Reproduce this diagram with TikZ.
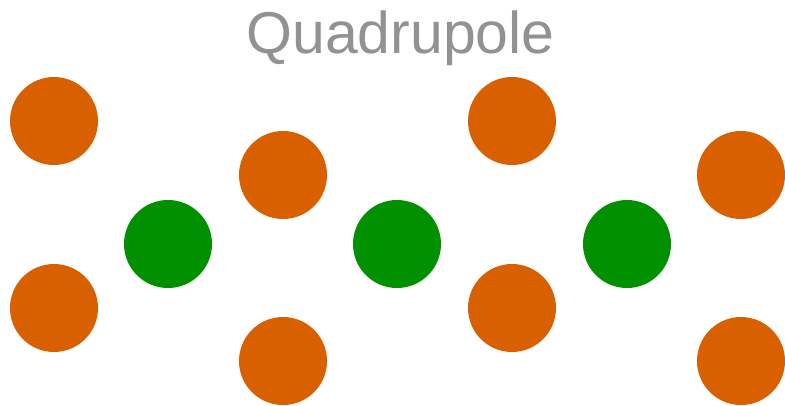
\documentclass[tikz,border=0pt]{standalone}
\usepackage{fontspec}
\setmainfont{Liberation Sans}
\definecolor{orangeq}{HTML}{D86000}
\definecolor{greenq}{HTML}{009000}
\definecolor{titlegray}{HTML}{929292}
\begin{document}
\begin{tikzpicture}[x=1pt,y=-1pt,
  poscharge/.style={circle,fill=orangeq,minimum size=88pt,inner sep=0pt},
  negcharge/.style={circle,fill=greenq,minimum size=88pt,inner sep=0pt}]
\useasboundingbox (0,0) rectangle (785,405);
\node[text=titlegray,font=\fontsize{59}{59}\selectfont,anchor=base] (title) at (400.5,53) {Quadrupole};
\node[poscharge] (o1) at (54,121) {};
\node[poscharge] (o2) at (54,308) {};
\node[poscharge] (o3) at (283,175) {};
\node[poscharge] (o4) at (283,361) {};
\node[poscharge] (o5) at (512,121) {};
\node[poscharge] (o6) at (512,308) {};
\node[poscharge] (o7) at (741,175) {};
\node[poscharge] (o8) at (741,361) {};
\node[negcharge] (g1) at (168,244) {};
\node[negcharge] (g2) at (397,244) {};
\node[negcharge] (g3) at (627,244) {};
\end{tikzpicture}
\end{document}
